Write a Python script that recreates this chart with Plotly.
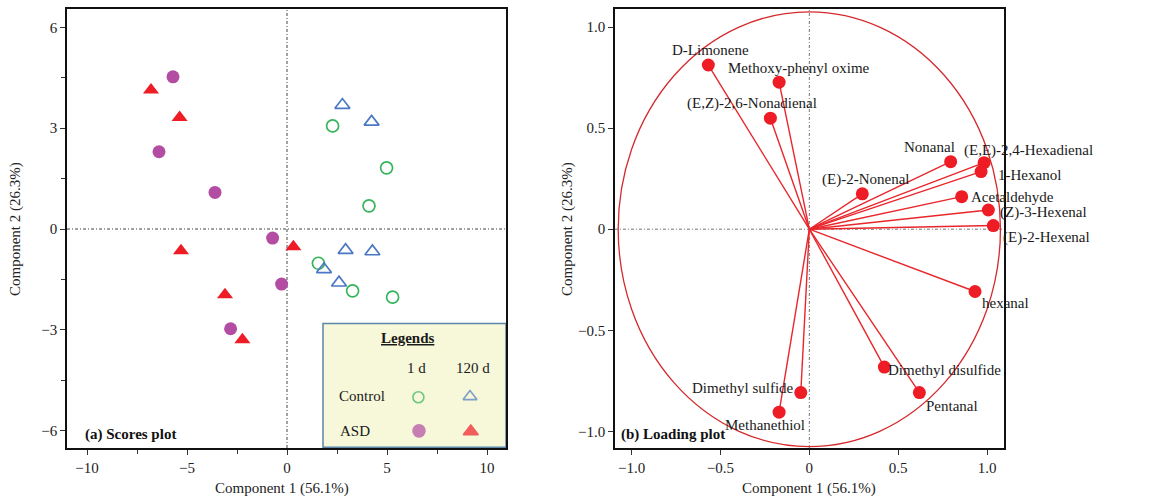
import plotly.graph_objects as go

# ---------------- DATA ----------------
# Scores plot (a)
ctrl_1d_x = [2.28, 4.98, 4.10, 1.57, 3.28, 5.28]
ctrl_1d_y = [3.07, 1.82, 0.69, -1.02, -1.84, -2.03]
ctrl_120d_x = [2.77, 4.23, 2.93, 4.27, 1.85, 2.60]
ctrl_120d_y = [3.69, 3.19, -0.63, -0.67, -1.20, -1.60]
asd_1d_x = [-5.70, -6.40, -3.60, -0.72, -0.27, -2.82]
asd_1d_y = [4.53, 2.30, 1.09, -0.27, -1.64, -2.97]
asd_120d_x = [-6.80, -5.37, -5.30, 0.32, -3.10, -2.23]
asd_120d_y = [4.14, 3.32, -0.65, -0.53, -1.96, -3.30]

# Loading plot (b)
compounds = ["D-Limonene", "Methoxy-phenyl oxime", "(E,Z)-2,6-Nonadienal", "Nonanal",
             "(E,E)-2,4-Hexadienal", "1-Hexanol", "(E)-2-Nonenal", "Acetaldehyde",
             "(Z)-3-Hexenal", "(E)-2-Hexenal", "hexanal", "Dimethyl disulfide",
             "Pentanal", "Dimethyl sulfide", "Methanethiol"]
load_x = [-0.568, -0.170, -0.219, 0.795, 0.983, 0.966, 0.298, 0.857,
          1.007, 1.035, 0.932, 0.422, 0.619, -0.048, -0.170]
load_y = [0.812, 0.727, 0.549, 0.334, 0.329, 0.285, 0.175, 0.161,
          0.095, 0.018, -0.308, -0.682, -0.808, -0.808, -0.905]

# label offsets in pixels (text centre relative to point; +dy = down)
label_dx = [2, 20, -18, -21, 44, 48, 3, 51, 55, 53, 30, 60, 33, -58, -14]
label_dy = [-15, -14, -15, -15, -12, 3, -14, 0, 2, 12, 12, 3, 13, -5, 13]

x1_ticks = [-10, -5, 0, 5, 10]
y1_ticks = [-6, -3, 0, 3, 6]
x2_ticks = [-1.0, -0.5, 0, 0.5, 1.0]
x2_ticktext = ["\u22121.0", "\u22120.5", "0", "0.5", "1.0"]
y2_ticks = [-1.0, -0.5, 0, 0.5, 1.0]
y2_ticktext = ["\u22121.0", "\u22120.5", "0", "0.5", "1.0"]
circle_r = 1.075

# ---------------- STYLE ----------------
FONT = "Liberation Serif"
GREEN = "#35b45a"
BLUE = "#4a78c4"
PURPLE = "#b34da3"
RED = "#ee1c25"
LRED = "#e8262b"

fig = go.Figure()

# scores traces
fig.add_trace(go.Scatter(x=ctrl_1d_x, y=ctrl_1d_y, mode="markers", xaxis="x", yaxis="y",
                         marker=dict(symbol="circle-open", size=12, color=GREEN, line=dict(width=1.7))))
fig.add_trace(go.Scatter(x=ctrl_120d_x, y=ctrl_120d_y, mode="markers", xaxis="x", yaxis="y",
                         marker=dict(symbol="triangle-up-open", size=13, color=BLUE, line=dict(width=1.7))))
fig.add_trace(go.Scatter(x=asd_1d_x, y=asd_1d_y, mode="markers", xaxis="x", yaxis="y",
                         marker=dict(symbol="circle", size=13, color=PURPLE)))
fig.add_trace(go.Scatter(x=asd_120d_x, y=asd_120d_y, mode="markers", xaxis="x", yaxis="y",
                         marker=dict(symbol="triangle-up", size=14, color=RED)))

# legend box keys (in scores-axis coordinates)
leg_x = [6.57, 9.15, 6.60, 9.19]
leg_y = [-5.01, -4.99, -6.01, -6.03]
leg_sym = ["circle-open", "triangle-up-open", "circle", "triangle-up"]
leg_col = [GREEN, BLUE, PURPLE, RED]
leg_size = [11, 12, 12, 13]
fig.add_trace(go.Scatter(x=leg_x, y=leg_y, mode="markers", xaxis="x", yaxis="y",
                         marker=dict(symbol=leg_sym, size=leg_size, color=leg_col,
                                     line=dict(width=1.6, color=leg_col))))

# loading lines
lx, ly = [], []
for xv, yv in zip(load_x, load_y):
    lx += [0, xv, None]
    ly += [0, yv, None]
fig.add_trace(go.Scatter(x=lx, y=ly, mode="lines", xaxis="x2", yaxis="y2",
                         line=dict(color=LRED, width=1.4)))
fig.add_trace(go.Scatter(x=load_x, y=load_y, mode="markers", xaxis="x2", yaxis="y2",
                         marker=dict(symbol="circle", size=13, color=RED)))

annotations = []
for name, xv, yv, dx, dy in zip(compounds, load_x, load_y, label_dx, label_dy):
    annotations.append(dict(x=xv, y=yv, xref="x2", yref="y2", text=name, showarrow=False,
                            xanchor="center", yanchor="middle", xshift=dx, yshift=-dy,
                            font=dict(family=FONT, size=15, color="#1a1a1a")))

# legend texts
legend_texts = [("<b><u>Legends</u></b>", 6.05, -3.24), ("1 d", 6.49, -4.14), ("120 d", 9.29, -4.14),
                ("Control", 3.74, -4.97), ("ASD", 3.40, -6.00)]
for t, xv, yv in legend_texts:
    annotations.append(dict(x=xv, y=yv, xref="x", yref="y", text=t, showarrow=False,
                            xanchor="center", yanchor="middle",
                            font=dict(family=FONT, size=15, color="#1a1a1a")))

# panel labels
annotations.append(dict(x=0.0707, y=(500 - 434) / 500, xref="paper", yref="paper",
                        text="<b>(a) Scores plot</b>", showarrow=False, xanchor="left", yanchor="middle",
                        font=dict(family=FONT, size=15, color="#111")))
annotations.append(dict(x=619 / 1169, y=(500 - 434) / 500, xref="paper", yref="paper",
                        text="<b>(b) Loading plot</b>", showarrow=False, xanchor="left", yanchor="middle",
                        font=dict(family=FONT, size=15, color="#111")))

# axis titles
for xc in [281.5 / 1169, 809 / 1169]:
    annotations.append(dict(x=xc, y=(500 - 488) / 500, xref="paper", yref="paper",
                            text="Component 1 (56.1%)", showarrow=False, xanchor="center", yanchor="middle",
                            font=dict(family=FONT, size=15, color="#222")))
for xc in [16 / 1169, 568 / 1169]:
    annotations.append(dict(x=xc, y=(500 - 229) / 500, xref="paper", yref="paper",
                            text="Component 2 (26.3%)", showarrow=False, textangle=-90,
                            xanchor="center", yanchor="middle",
                            font=dict(family=FONT, size=15, color="#222")))

shapes = [
    # legend box
    dict(type="rect", xref="x", yref="y", x0=1.8, x1=10.95, y0=-6.5, y1=-2.81,
         fillcolor="#f7f7d9", line=dict(color="#5b87a8", width=1.5), layer="below"),
    # zero lines scores
    dict(type="line", xref="x", yref="paper", x0=0, x1=0, y0=0.104, y1=0.982,
         line=dict(color="#444", width=1, dash="3px,2px,1px,2px"), layer="below"),
    dict(type="line", xref="paper", yref="y", x0=67 / 1169, x1=506 / 1169, y0=0, y1=0,
         line=dict(color="#444", width=1, dash="3px,2px,1px,2px"), layer="below"),
    # zero lines loading
    dict(type="line", xref="x2", yref="paper", x0=0, x1=0, y0=0.104, y1=0.982,
         line=dict(color="#777", width=1, dash="3px,2px,1px,2px"), layer="below"),
    dict(type="line", xref="paper", yref="y2", x0=615 / 1169, x1=1004 / 1169, y0=0, y1=0,
         line=dict(color="#777", width=1, dash="3px,2px,1px,2px"), layer="below"),
    # correlation circle
    dict(type="circle", xref="x2", yref="y2", x0=-circle_r, x1=circle_r, y0=-circle_r, y1=circle_r,
         line=dict(color="#d42a2e", width=1.3), layer="below"),
]

axis_common = dict(showgrid=False, zeroline=False, showline=True, linecolor="#111", linewidth=1.5,
                   mirror=True, ticks="outside", ticklen=5, tickcolor="#333",
                   tickfont=dict(family=FONT, size=15, color="#222"))

fig.update_layout(
    width=1169, height=500,
    margin=dict(l=0, r=0, t=0, b=0),
    paper_bgcolor="white", plot_bgcolor="white",
    showlegend=False,
    xaxis=dict(domain=[67 / 1169, 506 / 1169], range=[-11, 10.95], tickvals=x1_ticks,
               minor=dict(tickvals=[-7.5, -2.5, 2.5, 7.5], ticks="outside", ticklen=4, tickcolor="#333"),
               anchor="y", **axis_common),
    yaxis=dict(domain=[0.104, 0.982], range=[-6.52, 6.55], tickvals=y1_ticks,
               minor=dict(tickvals=[-4.5, -1.5, 1.5, 4.5], ticks="outside", ticklen=4, tickcolor="#333"),
               anchor="x", **axis_common),
    xaxis2=dict(domain=[615 / 1169, 1004 / 1169], range=[-1.093, 1.095], tickvals=x2_ticks,
                ticktext=x2_ticktext, anchor="y2", **axis_common),
    yaxis2=dict(domain=[0.104, 0.982], range=[-1.082, 1.089], tickvals=y2_ticks,
                ticktext=y2_ticktext, anchor="x2", **axis_common),
    annotations=annotations,
    shapes=shapes,
)

fig.write_html("out.html", config={"displayModeBar": False},
               post_script="document.body.style.margin='0px';document.body.style.overflow='hidden';")
